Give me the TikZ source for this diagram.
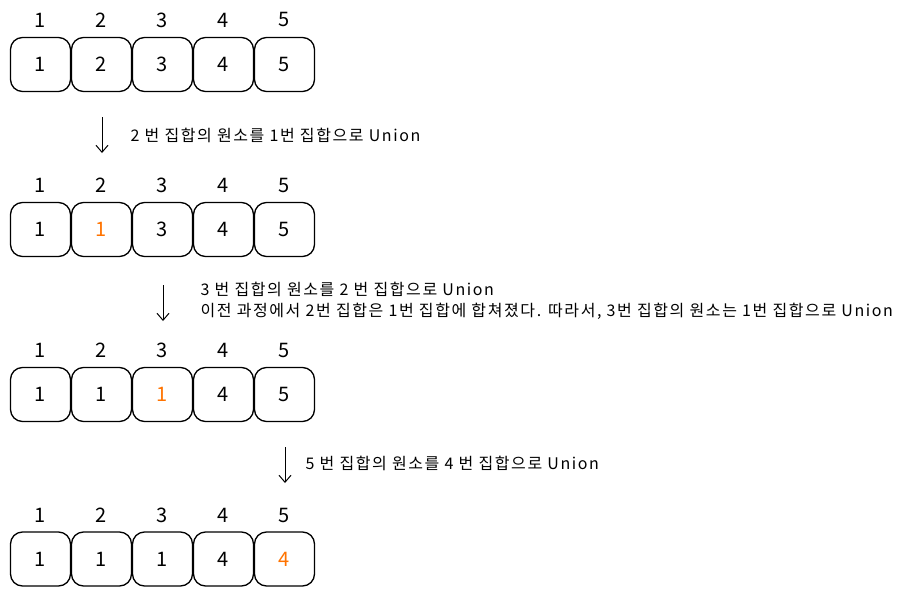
\documentclass[tikz,border=0pt]{standalone}
\usepackage{fontspec}
\setmainfont{Noto Sans CJK KR}
\newfontfamily\notefont[LetterSpace=10]{Noto Sans CJK KR}
\usetikzlibrary{arrows.meta}

\begin{document}
\begin{tikzpicture}[x=1pt, y=-1pt,
  cell/.style={draw, rounded corners=12pt, line width=1.3pt, minimum width=60pt, minimum height=54pt, font=\fontsize{20}{20}\selectfont},
  idx/.style={font=\fontsize{20}{20}\selectfont},
  note/.style={anchor=west, align=left, font=\notefont\fontsize{16}{21}\selectfont},
  merged/.style={text=orange!90!red}]

  \useasboundingbox (0,0) rectangle (900,597);

  % row 1
  \node[idx] (i11) at (40.5, 20) {1};
  \node[idx] (i12) at (101.5, 20) {2};
  \node[idx] (i13) at (162.5, 20) {3};
  \node[idx] (i14) at (223.5, 20) {4};
  \node[idx] (i15) at (284.5, 20) {5};
  \node[cell] (c11) at (40.5, 64.5) {1};
  \node[cell] (c12) at (101.5, 64.5) {2};
  \node[cell] (c13) at (162.5, 64.5) {3};
  \node[cell] (c14) at (223.5, 64.5) {4};
  \node[cell] (c15) at (284.5, 64.5) {5};

  % row 2
  \node[idx] (i21) at (40.5, 185) {1};
  \node[idx] (i22) at (101.5, 185) {2};
  \node[idx] (i23) at (162.5, 185) {3};
  \node[idx] (i24) at (223.5, 185) {4};
  \node[idx] (i25) at (284.5, 185) {5};
  \node[cell] (c21) at (40.5, 229.5) {1};
  \node[cell, merged] (c22) at (101.5, 229.5) {1};
  \node[cell] (c23) at (162.5, 229.5) {3};
  \node[cell] (c24) at (223.5, 229.5) {4};
  \node[cell] (c25) at (284.5, 229.5) {5};

  % row 3
  \node[idx] (i31) at (40.5, 350) {1};
  \node[idx] (i32) at (101.5, 350) {2};
  \node[idx] (i33) at (162.5, 350) {3};
  \node[idx] (i34) at (223.5, 350) {4};
  \node[idx] (i35) at (284.5, 350) {5};
  \node[cell] (c31) at (40.5, 394.5) {1};
  \node[cell] (c32) at (101.5, 394.5) {1};
  \node[cell, merged] (c33) at (162.5, 394.5) {1};
  \node[cell] (c34) at (223.5, 394.5) {4};
  \node[cell] (c35) at (284.5, 394.5) {5};

  % row 4
  \node[idx] (i41) at (40.5, 515) {1};
  \node[idx] (i42) at (101.5, 515) {2};
  \node[idx] (i43) at (162.5, 515) {3};
  \node[idx] (i44) at (223.5, 515) {4};
  \node[idx] (i45) at (284.5, 515) {5};
  \node[cell] (c41) at (40.5, 559) {1};
  \node[cell] (c42) at (101.5, 559) {1};
  \node[cell] (c43) at (162.5, 559) {1};
  \node[cell] (c44) at (223.5, 559) {4};
  \node[cell, merged] (c45) at (284.5, 559) {4};

  % union steps
  \coordinate (s1) at (102, 117);
  \coordinate (e1) at (102, 153);
  \coordinate (s2) at (163, 285);
  \coordinate (e2) at (163, 321);
  \coordinate (s3) at (285, 447);
  \coordinate (e3) at (285, 483);

  \draw[-{Straight Barb[length=7pt, width=12pt]}, line width=1pt] (s1) -- (e1);
  \draw[-{Straight Barb[length=7pt, width=12pt]}, line width=1pt] (s2) -- (e2);
  \draw[-{Straight Barb[length=7pt, width=12pt]}, line width=1pt] (s3) -- (e3);

  \node[note] (n1) at (127, 135) {2 번 집합의 원소를 1번 집합으로 Union};
  \node[note] (n2) at (197, 300.5) {3 번 집합의 원소를 2 번 집합으로 Union\\이전 과정에서 2번 집합은 1번 집합에 합쳐졌다. 따라서, 3번 집합의 원소는 1번 집합으로 Union};
  \node[note] (n3) at (302, 463) {5 번 집합의 원소를 4 번 집합으로 Union};

\end{tikzpicture}
\end{document}
